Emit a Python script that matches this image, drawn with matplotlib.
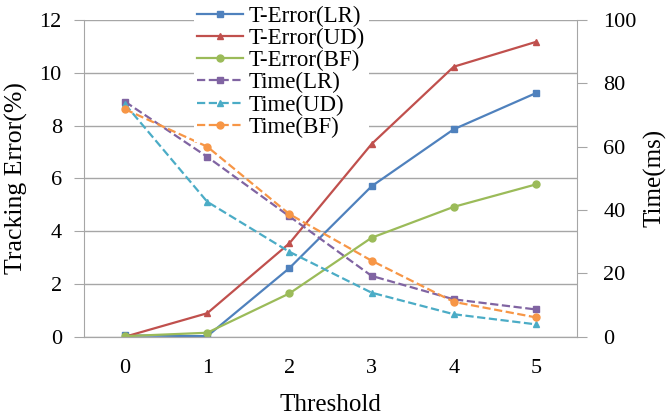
import numpy as np
import matplotlib
matplotlib.use("Agg")
import matplotlib.pyplot as plt

plt.rcParams['font.family'] = ['Liberation Serif', 'DejaVu Serif']

thresholds = [0, 1, 2, 3, 4, 5]

err_lr = [0.05, 0.02, 2.6, 5.7, 7.86, 9.23]
err_ud = [0.0, 0.89, 3.54, 7.3, 10.23, 11.17]
err_bf = [0.02, 0.15, 1.64, 3.75, 4.92, 5.77]

time_lr = [74.2, 56.8, 38.0, 19.2, 11.8, 8.6]
time_ud = [73.4, 42.6, 26.8, 13.9, 7.1, 3.9]
time_bf = [71.8, 60.0, 38.7, 24.0, 11.0, 6.1]

fig = plt.figure(figsize=(6.67, 4.2), dpi=100)
ax = fig.add_axes([84/667, 1 - 336.7/420, (577-84)/667, (336.7-20)/420])
ax2 = ax.twinx()

grey = '#a6a6a6'
ax.plot(thresholds, err_lr, color='#4F81BD', marker='s', ms=5, lw=1.6, label='T-Error(LR)')
ax.plot(thresholds, err_ud, color='#C0504D', marker='^', ms=5, lw=1.6, label='T-Error(UD)')
ax.plot(thresholds, err_bf, color='#9BBB59', marker='o', ms=5, lw=1.6, label='T-Error(BF)')
ax2.plot(thresholds, time_lr, color='#8064A2', marker='s', ms=5, lw=1.6, ls='--', label='Time(LR)')
ax2.plot(thresholds, time_ud, color='#4BACC6', marker='^', ms=5, lw=1.6, ls='--', label='Time(UD)')
ax2.plot(thresholds, time_bf, color='#F79646', marker='o', ms=5, lw=1.6, ls='--', label='Time(BF)')

ax.set_xlim(-0.5, 5.5)
ax.set_ylim(0, 12)
ax.set_yticks(np.arange(0, 13, 2))
ax2.set_ylim(0, 100)
ax2.set_yticks(np.arange(0, 101, 20))
ax.set_xticks(thresholds)

ax.grid(axis='y', color=grey, lw=1)
ax.set_axisbelow(True)
for a in (ax, ax2):
    for s in a.spines.values():
        s.set_color(grey)
    a.spines['top'].set_visible(False)
ax2.spines['left'].set_visible(False)
ax.spines['right'].set_visible(False)

ax.tick_params(axis='y', length=7, color=grey, labelsize=16, pad=9)
ax.tick_params(axis='x', length=0, labelsize=16, pad=16)
ax2.tick_params(axis='y', length=7, color=grey, labelsize=16, pad=12)

ax.set_ylabel('Tracking Error(%)', fontsize=18.5)
ax.yaxis.set_label_coords(-0.113, 0.5)
ax2.set_ylabel('Time(ms)', fontsize=18)
ax2.yaxis.set_label_coords(1.135, 0.5)
ax.set_xlabel('Threshold', fontsize=18)
ax.xaxis.set_label_coords(0.5, -0.18)

h1, l1 = ax.get_legend_handles_labels()
h2, l2 = ax2.get_legend_handles_labels()
leg = ax2.legend(h1 + h2, l1 + l2, loc='upper left', bbox_to_anchor=(194/667, 1 - 2/420),
                 bbox_transform=fig.transFigure, frameon=True, fontsize=16.5,
                 handlelength=2.0, labelspacing=0.05, borderaxespad=0,
                 handletextpad=0.25, borderpad=0.15, fancybox=False)
leg.get_frame().set_facecolor('white')
leg.get_frame().set_edgecolor('none')
leg.get_frame().set_alpha(1)

fig.savefig('out.png', dpi=100)
